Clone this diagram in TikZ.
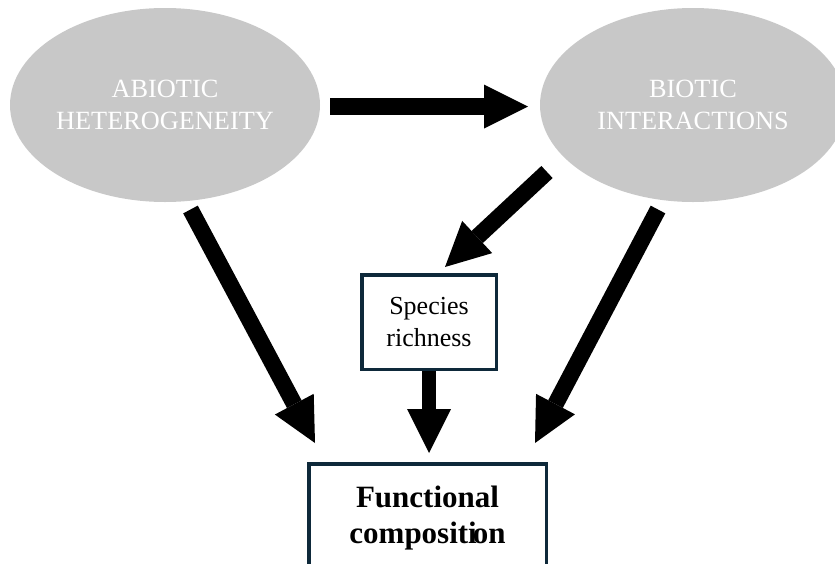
\documentclass[tikz,border=0pt]{standalone}
\usepackage{fontspec}
\setmainfont{Liberation Serif}
\usetikzlibrary{arrows.meta,shapes.geometric,calc}
\definecolor{bubble}{RGB}{200,200,200}
\definecolor{frame}{RGB}{14,41,58}

\begin{document}
\begin{tikzpicture}[x=1pt,y=-1pt,
  factor/.style={ellipse, fill=bubble, draw=none, minimum height=194pt,
    inner sep=0pt, text=white, align=center,
    font=\fontsize{26.3}{32}\selectfont},
  measure/.style={draw=frame, line width=3.5pt, fill=white, inner sep=0pt,
    align=center},
  bigarrow/.style={line width=16.5pt,
    -{Triangle[length=44pt,width=44pt,line width=0pt]}},
]
\clip (0,0) rectangle (835,563);

% drivers
\node[factor, minimum width=310pt] (abiotic) at (165,105) {ABIOTIC\\HETEROGENEITY};
\node[factor, minimum width=306pt] (biotic)  at (693,105) {BIOTIC\\INTERACTIONS};

% response variables
\node[measure, minimum width=134.5pt, minimum height=94.5pt,
      font=\fontsize{26}{32}\selectfont] (species) at (429,322) {Species\\richness};
\node[measure, minimum width=237.5pt, minimum height=108.5pt,
      font=\fontsize{31}{36}\selectfont\bfseries] (func) at (427.5,518)
      {Functional\\compositi\kern-4pt on};

% effects
\draw[bigarrow, line width=17pt] ($(abiotic.center)+(165,1.5)$) -- ($(biotic.center)+(-165,1.5)$);
\draw[bigarrow] ($(abiotic.center)+(25.5,104.5)$) -- ($(func.north west)+(8,-19)$);
\draw[bigarrow] ($(biotic.center)+(-35,104.5)$) -- ($(func.north east)+(-13,-19)$);
\draw[bigarrow] ($(biotic.center)+(-146,67)$) -- ($(species.north)+(16,-6)$);
\draw[bigarrow, line width=14pt, shorten >=9pt] (species.south) -- (species.south |- func.north);
\end{tikzpicture}
\end{document}
